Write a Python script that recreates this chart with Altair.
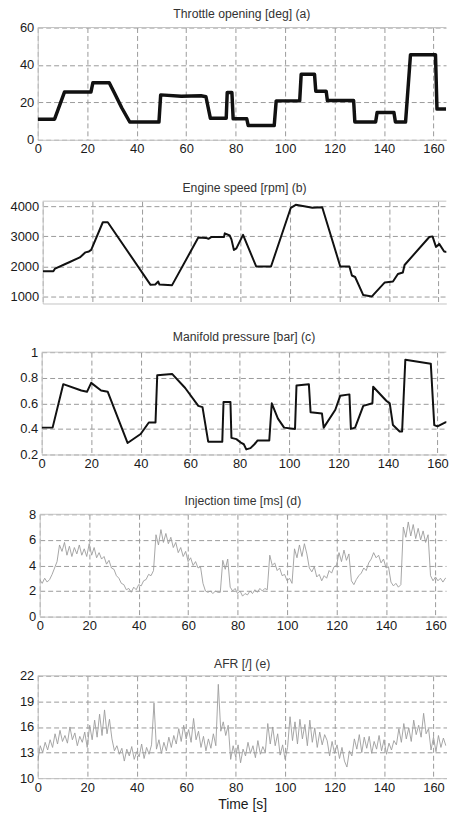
import altair as alt
import pandas as pd

# ---------------- data ----------------
titles = [
    "Throttle opening [deg] (a)",
    "Engine speed [rpm] (b)",
    "Manifold pressure [bar] (c)",
    "Injection time [ms] (d)",
    "AFR [/] (e)",
]
x_ticks = [0, 20, 40, 60, 80, 100, 120, 140, 160]
y_ticks = [
    [0, 20, 40, 60],
    [1000, 2000, 3000, 4000],
    [0.2, 0.4, 0.6, 0.8, 1.0],
    [0, 2, 4, 6, 8],
    [10, 13, 16, 19, 22],
]
y_domains = [[0, 60], [770, 4170], [0.2, 1.0], [0, 8], [10, 22]]

thr_t = [0, 6.8, 10.8, 21.5, 22.3, 28.9, 31, 34, 37.2, 49, 49.7, 58, 66, 68, 69.8,
         76.2, 76.6, 78.5, 79, 84.5, 85.1, 95.6, 96.4, 105.9, 106.5, 111.9, 112.4,
         116.6, 117.1, 127.7, 128.2, 136.6, 137.2, 144, 144.6, 148.7, 150.7, 160.8,
         161.4, 165.5]
thr_v = [11, 11, 25.5, 25.5, 30.5, 30.5, 25, 17, 9.5, 9.5, 24, 23.3, 23.5, 23, 11.5,
         11.5, 25.3, 25.3, 11.2, 11.2, 7.6, 7.6, 20.8, 20.8, 35, 35, 26, 26, 21, 21,
         9.5, 9.5, 14.6, 14.6, 9.5, 9.5, 45.5, 45.5, 16.4, 16.4]

spd_t = [0, 4.3, 5, 9.6, 15, 17.3, 18.7, 19.6, 24.3, 26.3, 43.6, 45.5, 46.7, 47.2,
         52.3, 62.9, 66, 67, 68.3, 73.3, 73.6, 75.6, 76.3, 77.3, 78.3, 81, 86.3,
         92.3, 100.3, 102.3, 105.7, 109, 113, 120.3, 124, 125, 126.3, 129.6, 133,
         138.3, 141.6, 143.6, 145.6, 146.3, 156.3, 157.6, 159, 160.3, 162.3, 165.5]
spd_v = [1840, 1840, 1930, 2100, 2300, 2470, 2500, 2550, 3470, 3470, 1390, 1400,
         1500, 1400, 1380, 2960, 2950, 2920, 2980, 2980, 3100, 3030, 2900, 2550, 2600,
         3050, 2000, 2000, 3950, 4050, 4000, 3950, 3970, 2000, 2000, 1700, 1650,
         1050, 1000, 1470, 1500, 1750, 1800, 2050, 2980, 3000, 2650, 2750, 2500, 2450]

map_t = [0, 4.4, 8.7, 16, 18.3, 20, 24, 26.7, 34.7, 40, 43.3, 46, 46.7, 52.7, 58,
         63.3, 65, 67.3, 73, 73.5, 76.3, 76.7, 78.7, 80.7, 81.7, 82.7, 84.4, 86, 87.3,
         92, 93, 95.5, 98, 102.4, 103, 108, 108.7, 113.3, 114, 118.7, 120.7, 124.4,
         125, 126.7, 130, 133.7, 134, 139.3, 140.7, 142, 144.7, 145.7, 147, 157.3,
         158.7, 160, 163, 165.5]
map_v = [0.41, 0.41, 0.75, 0.70, 0.69, 0.76, 0.70, 0.69, 0.29, 0.36, 0.45, 0.45,
         0.82, 0.83, 0.72, 0.58, 0.57, 0.30, 0.30, 0.61, 0.61, 0.33, 0.32, 0.29, 0.28,
         0.24, 0.25, 0.28, 0.31, 0.31, 0.60, 0.48, 0.41, 0.40, 0.74, 0.75, 0.53, 0.52,
         0.41, 0.55, 0.66, 0.67, 0.40, 0.41, 0.58, 0.60, 0.73, 0.62, 0.60, 0.43, 0.38,
         0.38, 0.94, 0.91, 0.43, 0.42, 0.45, 0.46]

inj_t = [0, 1, 2, 3, 4, 5, 6, 7, 8, 9, 10, 11, 12, 13, 14, 15, 16, 17, 18, 19, 20,
         21, 22, 23, 24, 25, 26, 27, 28, 29, 30, 31, 32, 33, 34, 35, 36, 37, 38, 39,
         40, 41, 42, 43, 44, 45, 46, 47, 48, 49, 50, 51, 52, 53, 54, 55, 56, 57, 58,
         59, 60, 61, 62, 63, 64, 65, 66, 67, 68, 69, 70, 71, 72, 73, 74, 75, 76, 77,
         78, 79, 80, 81, 82, 83, 84, 85, 86, 87, 88, 89, 90, 91, 92, 93, 94, 95, 96,
         97, 98, 99, 100, 101, 102, 103, 104, 105, 106, 107, 108, 109, 110, 111, 112,
         113, 114, 115, 116, 117, 118, 119, 120, 121, 122, 123, 124, 125, 126, 127,
         128, 129, 130, 131, 132, 133, 134, 135, 136, 137, 138, 139, 140, 141, 142,
         143, 144, 145, 146, 147, 148, 149, 150, 151, 152, 153, 154, 155, 156, 157,
         158, 159, 160, 161, 162, 163, 164, 165]
inj_v = [2.9, 2.6, 3.0, 2.7, 2.9, 3.3, 3.8, 4.3, 5.6, 5.1, 5.8, 4.8, 5.5, 4.7, 5.4,
         4.9, 5.6, 4.8, 5.3, 4.7, 5.7, 4.8, 5.4, 4.6, 5.0, 4.5, 4.7, 4.1, 4.4, 3.8,
         3.7, 3.2, 3.0, 2.6, 2.5, 2.1, 2.2, 1.9, 2.3, 2.1, 2.5, 2.4, 2.8, 2.9, 3.3,
         3.2, 3.6, 6.4, 5.6, 6.8, 5.8, 6.5, 5.7, 6.2, 5.4, 5.8, 5.0, 5.4, 4.7, 5.1,
         4.3, 4.6, 4.0, 4.3, 3.8, 3.9, 2.6, 2.0, 1.9, 2.0, 1.8, 2.0, 1.9, 1.9, 4.4,
         3.7, 4.5, 2.3, 2.0, 2.2, 1.8, 2.0, 1.6, 1.8, 1.7, 2.0, 1.8, 2.1, 1.9, 2.2,
         2.0, 2.2, 2.1, 4.8, 4.0, 4.2, 3.6, 3.8, 3.2, 3.3, 2.8, 3.0, 2.6, 5.3, 4.6,
         5.6, 4.7, 5.7, 4.9, 3.8, 3.5, 3.9, 3.1, 3.3, 2.8, 3.2, 3.0, 3.6, 3.4, 3.9,
         4.0, 5.0, 4.3, 5.2, 4.4, 4.9, 2.8, 2.5, 2.9, 3.2, 3.4, 3.8, 3.6, 4.2, 4.5,
         5.0, 4.6, 4.8, 4.2, 4.5, 3.8, 3.9, 2.7, 2.4, 2.6, 2.3, 2.5, 7.0, 6.2, 7.4,
         6.3, 7.2, 6.1, 6.9, 6.0, 6.7, 5.8, 6.4, 3.2, 2.8, 3.1, 2.8, 3.0, 2.7, 3.0,
         2.9]

afr_t = inj_t
afr_v = [12.0, 13.8, 13.0, 14.2, 13.3, 14.5, 13.6, 15.2, 14.0, 15.6, 14.3, 15.0,
         14.1, 16.0, 14.5, 15.3, 13.8, 14.9, 14.2, 15.4, 13.6, 16.2, 14.5, 16.8, 14.8,
         17.5, 15.0, 18.0, 15.2, 16.9, 14.6, 13.2, 13.8, 12.8, 13.5, 12.0, 13.4, 12.6,
         13.7, 12.2, 13.1, 12.5, 14.0, 12.3, 13.6, 12.8, 13.9, 18.8, 13.4, 14.5, 12.9,
         14.2, 13.2, 14.8, 13.6, 15.0, 14.0, 15.8, 14.3, 16.2, 14.6, 15.7, 14.2, 17.0,
         14.5, 15.5, 13.6, 14.9, 13.2, 14.6, 13.5, 15.2, 13.8, 21.0, 15.5, 16.6, 15.0,
         16.2, 12.2, 13.8, 12.5, 13.9, 11.8, 13.4, 12.6, 14.2, 12.9, 13.8, 12.4, 14.4,
         12.8, 13.7, 13.0, 16.4, 14.0, 16.0, 13.8, 15.2, 12.7, 13.9, 12.2, 13.6, 17.2,
         14.4, 16.6, 14.0, 16.9, 14.6, 16.3, 13.8, 16.8, 14.2, 15.9, 13.6, 15.4, 13.9,
         15.1, 14.4, 12.6, 14.3, 12.9, 13.9, 12.3, 13.6, 12.0, 11.3, 13.2, 12.6, 14.6,
         13.4, 15.1, 13.0, 14.8, 13.5, 14.9, 12.9, 14.3, 13.4, 15.0, 13.2, 14.5, 12.8,
         14.1, 13.3, 14.4, 13.9, 15.8, 14.2, 16.4, 14.6, 15.9, 14.3, 16.8, 15.1, 16.2,
         14.8, 17.6, 15.2, 15.8, 13.3, 14.8, 13.1, 15.0, 13.6, 14.7, 13.8]

series_t = [thr_t, spd_t, map_t, inj_t, afr_t]
series_v = [thr_v, spd_v, map_v, inj_v, afr_v]

# ---------------- styling / layout ----------------
FONT = "Liberation Sans"
TXT = "#1a1a1a"
GRID = "#9a9a9a"
FRAME = "#c4c4c4"
PX_PER_S = 2.49
RIGHT = 449
origins = [38, 42.7, 41.7, 40, 37.5]
heights = [113, 103, 103, 103, 103]
title_offsets = [1, 5.9, 2.5, 0.8, -0.8]
MIN_EXT = 36
line_colors = ["#111111", "#111111", "#111111", "#9c9c9c", "#9c9c9c"]
line_widths = [3.5, 2.0, 2.0, 0.9, 0.9]
y_formats = ["d", "d", "~g", "d", "d"]


def panel(i):
    W = RIGHT - origins[i]
    xmax = W / PX_PER_S
    df = pd.DataFrame({"t": series_t[i], "v": series_v[i]})
    xaxis_kw = dict(
        values=x_ticks, grid=True, gridDash=[5, 3], gridColor=GRID, gridWidth=1,
        domain=True, domainColor=FRAME, domainWidth=1, ticks=False,
        labels=(i != 1), labelFontSize=13, labelFont=FONT, labelColor=TXT,
        labelPadding=3, labelFlush=False,
    )
    if i == 4:
        xaxis_kw.update(title="Time [s]", titleFont=FONT, titleFontSize=14,
                        titleColor=TXT, titleFontWeight="normal", titlePadding=3.5)
        xenc = alt.X("t:Q", scale=alt.Scale(domain=[0, xmax], nice=False, zero=False),
                     axis=alt.Axis(**xaxis_kw))
    else:
        xenc = alt.X("t:Q", scale=alt.Scale(domain=[0, xmax], nice=False, zero=False),
                     axis=alt.Axis(**xaxis_kw), title="")
    yenc = alt.Y(
        "v:Q",
        scale=alt.Scale(domain=y_domains[i], nice=False, zero=False),
        axis=alt.Axis(values=y_ticks[i], format=y_formats[i], grid=True,
                      gridDash=[5, 3], gridColor=GRID, gridWidth=1, domain=True,
                      domainColor=FRAME, domainWidth=1, ticks=False,
                      labelFontSize=13, labelFont=FONT, labelColor=TXT,
                      labelPadding=4, labelFlush=False, minExtent=MIN_EXT),
        title="",
    )
    line = alt.Chart(df).mark_line(
        color=line_colors[i], strokeWidth=line_widths[i], clip=True,
        strokeJoin="round",
    ).encode(x=xenc, y=yenc)
    top = alt.Chart(pd.DataFrame({"a": [0]})).mark_rule(
        color=FRAME, strokeWidth=1
    ).encode(x=alt.value(0), x2=alt.value(W), y=alt.value(0))
    chart = alt.layer(line, top).properties(
        width=W, height=heights[i],
        title=alt.TitleParams(titles[i], font=FONT, fontSize=12.3, color="#333333",
                              fontWeight="normal", offset=title_offsets[i],
                              anchor="middle", frame="group"),
    )
    spacer = alt.Chart(pd.DataFrame({"a": [0]})).mark_rule(
        color="transparent", strokeWidth=0
    ).encode(x=alt.value(0), x2=alt.value(0.1), y=alt.value(1))
    spacer = spacer.properties(width=max(origins[i] - MIN_EXT, 0.5), height=2)
    return alt.hconcat(spacer, chart, spacing=0)


rows = [panel(i) for i in range(5)]
block_a = alt.vconcat(rows[0], rows[1], spacing=25.8)
block_b = alt.vconcat(rows[2], rows[3], spacing=24.2)
block_c = alt.vconcat(block_b, rows[4], spacing=24.8)
chart = alt.vconcat(block_a, block_c, spacing=27.8).properties(
    padding={"left": 0, "top": 5, "right": 0, "bottom": 0},
    background="white",
).configure_view(stroke="transparent", strokeWidth=0)

chart.save("out.html", embed_options={"renderer": "svg", "actions": False})
